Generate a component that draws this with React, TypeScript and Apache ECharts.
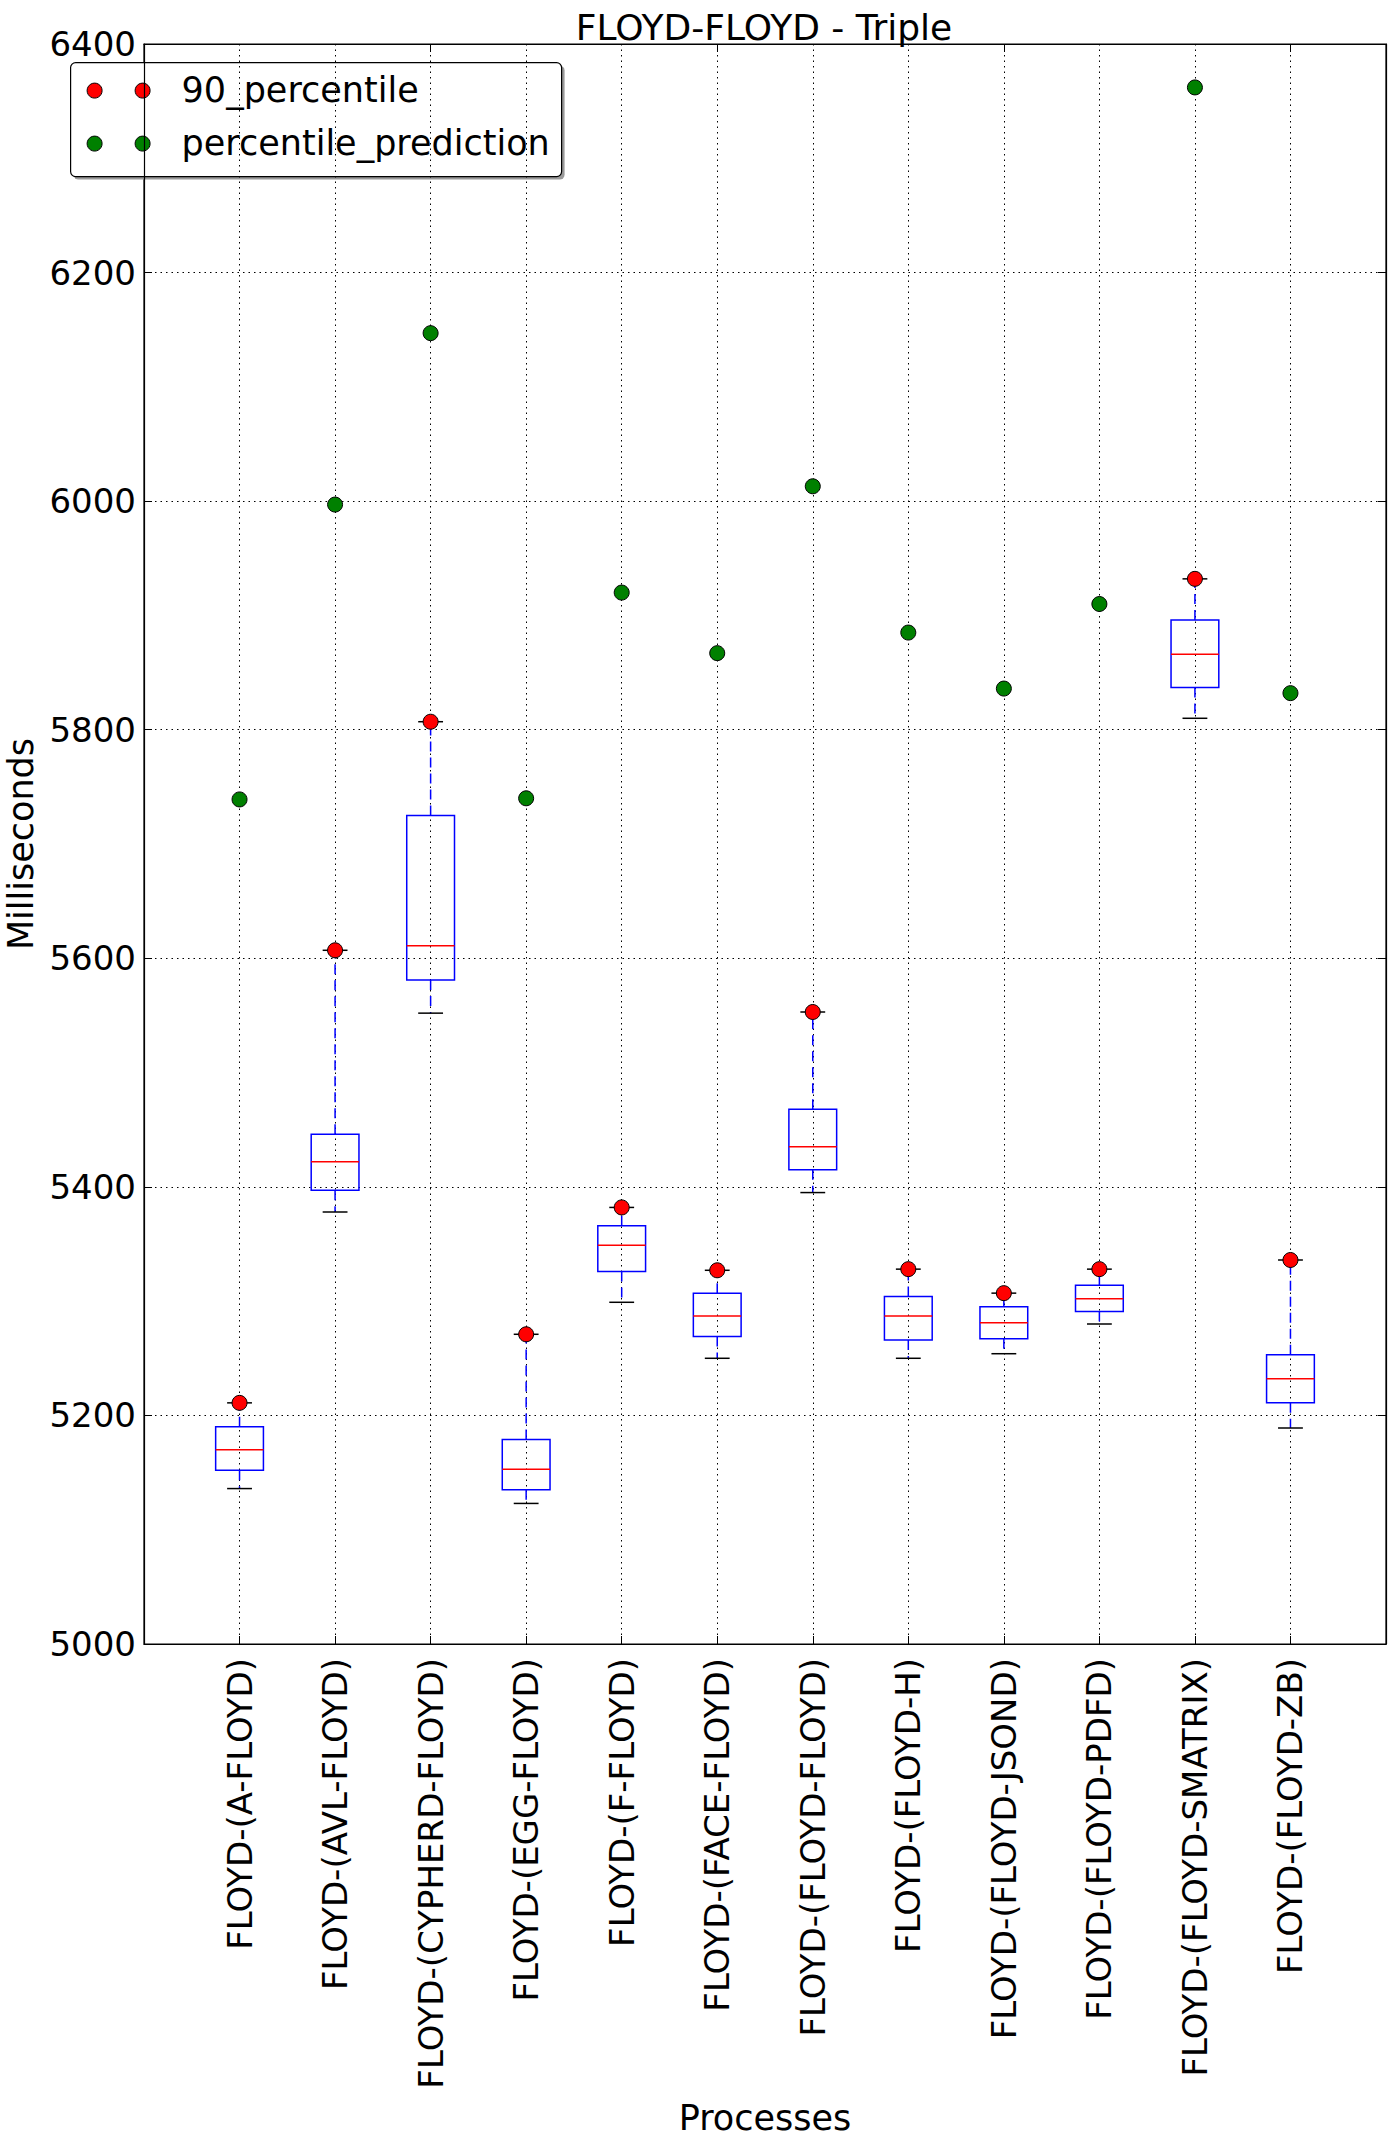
import React, { useEffect, useRef } from "react";
import * as echarts from "echarts";

const categories = [
  "FLOYD-(A-FLOYD)",
  "FLOYD-(AVL-FLOYD)",
  "FLOYD-(CYPHERD-FLOYD)",
  "FLOYD-(EGG-FLOYD)",
  "FLOYD-(F-FLOYD)",
  "FLOYD-(FACE-FLOYD)",
  "FLOYD-(FLOYD-FLOYD)",
  "FLOYD-(FLOYD-H)",
  "FLOYD-(FLOYD-JSOND)",
  "FLOYD-(FLOYD-PDFD)",
  "FLOYD-(FLOYD-SMATRIX)",
  "FLOYD-(FLOYD-ZB)",
];

const whiskerLow = [5136, 5378, 5552, 5123, 5299, 5250, 5395, 5250, 5254, 5280, 5810, 5189];
const q1 = [5152, 5397, 5581, 5135, 5326, 5269, 5415, 5266, 5267, 5291, 5837, 5211];
const median = [5170, 5422, 5611, 5153, 5349, 5287, 5435, 5287, 5281, 5302, 5866, 5232];
const q3 = [5190, 5446, 5725, 5179, 5366, 5307, 5468, 5304, 5295, 5314, 5896, 5253];
const whiskerHigh = [5211, 5607, 5807, 5271, 5382, 5327, 5553, 5328, 5307, 5328, 5932, 5336];
const percentile90 = [5211, 5607, 5807, 5271, 5382, 5327, 5553, 5328, 5307, 5328, 5932, 5336];
const percentilePrediction = [5739, 5997, 6147, 5740, 5920, 5867, 6013, 5885, 5836, 5910, 6362, 5832];

const yMin = 5000;
const yMax = 6400;
const yStep = 200;

const FONT = "'DejaVu Sans', sans-serif";

export default function App() {
  const ref = useRef<HTMLDivElement>(null);

  useEffect(() => {
    if (!ref.current) return;
    const chart = echarts.init(ref.current, null, { renderer: "svg" });

    const xCats = ["", ...categories, ""];
    const boxData = categories.map((_, i) => [
      i + 1,
      whiskerLow[i],
      q1[i],
      median[i],
      q3[i],
      whiskerHigh[i],
    ]);
    const redData = percentile90.map((v, i) => [i + 1, v]);
    const greenData = percentilePrediction.map((v, i) => [i + 1, v]);

    const dotted = { color: "#000", width: 1, type: [1.5, 4] as any };

    const option: any = {
      animation: false,
      backgroundColor: "#fff",
      title: {
        text: "FLOYD-FLOYD - Triple",
        left: 759,
        top: 4,
        textAlign: "center",
        textStyle: { fontFamily: FONT, fontSize: 36, fontWeight: "normal", color: "#000" },
      },
      grid: {
        left: 144,
        right: 8,
        top: 44,
        bottom: 503,
        containLabel: false,
        outerBoundsMode: "none",
        show: true,
        borderColor: "#000",
        borderWidth: 1.2,
        backgroundColor: "transparent",
      },
      xAxis: [
        {
          type: "category",
          data: xCats,
          boundaryGap: false,
          position: "bottom",
          name: "Processes",
          nameLocation: "middle",
          nameGap: 456,
          nameTextStyle: { fontFamily: FONT, fontSize: 35, color: "#000" },
          axisLine: { show: true, lineStyle: { color: "#000", width: 1.2 } },
          axisTick: { show: true, inside: true, length: 8, lineStyle: { color: "#000" } },
          axisLabel: {
            rotate: 90,
            interval: 0,
            margin: 14,
            fontFamily: FONT,
            fontSize: 34,
            color: "#000",
          },
          splitLine: { show: true, interval: 0, lineStyle: dotted },
        },
        {
          type: "category",
          data: xCats,
          boundaryGap: false,
          position: "top",
          axisLine: { show: true, lineStyle: { color: "#000", width: 1.2 } },
          axisTick: { show: true, inside: true, length: 8, lineStyle: { color: "#000" } },
          axisLabel: { show: false },
          splitLine: { show: false },
        },
      ],
      yAxis: [
        {
          type: "value",
          min: yMin,
          max: yMax,
          interval: yStep,
          position: "left",
          name: "Milliseconds",
          nameLocation: "middle",
          nameGap: 76,
          nameTextStyle: { fontFamily: FONT, fontSize: 35, color: "#000" },
          axisLine: { show: true, lineStyle: { color: "#000", width: 1.2 } },
          axisTick: { show: true, inside: true, length: 8, lineStyle: { color: "#000" } },
          axisLabel: {
            margin: 8,
            fontFamily: FONT,
            fontSize: 34,
            color: "#000",
            formatter: (v: number) => String(v),
          },
          splitLine: { show: true, lineStyle: dotted },
        },
        {
          type: "value",
          min: yMin,
          max: yMax,
          interval: yStep,
          position: "right",
          axisLine: { show: true, lineStyle: { color: "#000", width: 1.2 } },
          axisTick: { show: true, inside: true, length: 8, lineStyle: { color: "#000" } },
          axisLabel: { show: false },
          splitLine: { show: false },
        },
      ],
      series: [
        {
          type: "custom",
          name: "boxes",
          xAxisIndex: 0,
          yAxisIndex: 0,
          data: boxData,
          encode: { x: 0, y: [1, 2, 3, 4, 5] },
          z: 3,
          renderItem: (params: any, api: any) => {
            const xi = api.value(0);
            const lo = api.coord([xi, api.value(1)]);
            const p1 = api.coord([xi, api.value(2)]);
            const pm = api.coord([xi, api.value(3)]);
            const p3 = api.coord([xi, api.value(4)]);
            const hi = api.coord([xi, api.value(5)]);
            const band = api.size([1, 0])[0];
            const bw = band * 0.5;
            const cw = band * 0.26;
            const cx = lo[0];
            const blue = "#0000ff";
            return {
              type: "group",
              children: [
                {
                  type: "line",
                  shape: { x1: cx, y1: p3[1], x2: cx, y2: hi[1] },
                  style: { stroke: blue, lineWidth: 1.5, lineDash: [10, 6] },
                },
                {
                  type: "line",
                  shape: { x1: cx, y1: p1[1], x2: cx, y2: lo[1] },
                  style: { stroke: blue, lineWidth: 1.5, lineDash: [10, 6] },
                },
                {
                  type: "line",
                  shape: { x1: cx - cw / 2, y1: hi[1], x2: cx + cw / 2, y2: hi[1] },
                  style: { stroke: "#000", lineWidth: 1.5 },
                },
                {
                  type: "line",
                  shape: { x1: cx - cw / 2, y1: lo[1], x2: cx + cw / 2, y2: lo[1] },
                  style: { stroke: "#000", lineWidth: 1.5 },
                },
                {
                  type: "rect",
                  shape: { x: cx - bw / 2, y: p3[1], width: bw, height: p1[1] - p3[1] },
                  style: { fill: "none", stroke: blue, lineWidth: 1.5 },
                },
                {
                  type: "line",
                  shape: { x1: cx - bw / 2, y1: pm[1], x2: cx + bw / 2, y2: pm[1] },
                  style: { stroke: "#ff0000", lineWidth: 1.5 },
                },
              ],
            };
          },
        },
        {
          type: "scatter",
          name: "90_percentile",
          data: redData,
          symbol: "circle",
          symbolSize: 15,
          z: 5,
          itemStyle: { color: "#ff0000", borderColor: "#000", borderWidth: 1, opacity: 1 },
        },
        {
          type: "scatter",
          name: "percentile_prediction",
          data: greenData,
          symbol: "circle",
          symbolSize: 15,
          z: 5,
          itemStyle: { color: "#008000", borderColor: "#000", borderWidth: 1, opacity: 1 },
        },
      ],
      graphic: [
        {
          type: "group",
          left: 70,
          top: 62,
          z: 100,
          children: [
            {
              type: "rect",
              x: 3,
              y: 3,
              shape: { x: 0, y: 0, width: 491, height: 114, r: 5 },
              style: { fill: "#9a9a9a", stroke: "none" },
            },
            {
              type: "rect",
              x: 0,
              y: 0,
              shape: { x: 0, y: 0, width: 491, height: 114, r: 5 },
              style: { fill: "#fff", stroke: "#000", lineWidth: 1.2 },
            },
            { type: "circle", shape: { cx: 24, cy: 28, r: 7.5 }, style: { fill: "#ff0000", stroke: "#000", lineWidth: 1 } },
            { type: "circle", shape: { cx: 72, cy: 28, r: 7.5 }, style: { fill: "#ff0000", stroke: "#000", lineWidth: 1 } },
            { type: "circle", shape: { cx: 24, cy: 81, r: 7.5 }, style: { fill: "#008000", stroke: "#000", lineWidth: 1 } },
            { type: "circle", shape: { cx: 72, cy: 81, r: 7.5 }, style: { fill: "#008000", stroke: "#000", lineWidth: 1 } },
            {
              type: "text",
              x: 111,
              y: 27,
              style: {
                text: "90_percentile",
                font: `35px ${FONT}`,
                fill: "#000",
                textVerticalAlign: "middle",
                verticalAlign: "middle",
              },
            },
            {
              type: "text",
              x: 111,
              y: 80,
              style: {
                text: "percentile_prediction",
                font: `35px ${FONT}`,
                fill: "#000",
                textVerticalAlign: "middle",
                verticalAlign: "middle",
              },
            },
          ],
        },
      ],
    };

    chart.setOption(option);
    return () => chart.dispose();
  }, []);

  return (
    <div
      ref={ref}
      style={{ position: "absolute", left: 0, top: 0, width: 1394, height: 2147, background: "#fff" }}
    />
  );
}
